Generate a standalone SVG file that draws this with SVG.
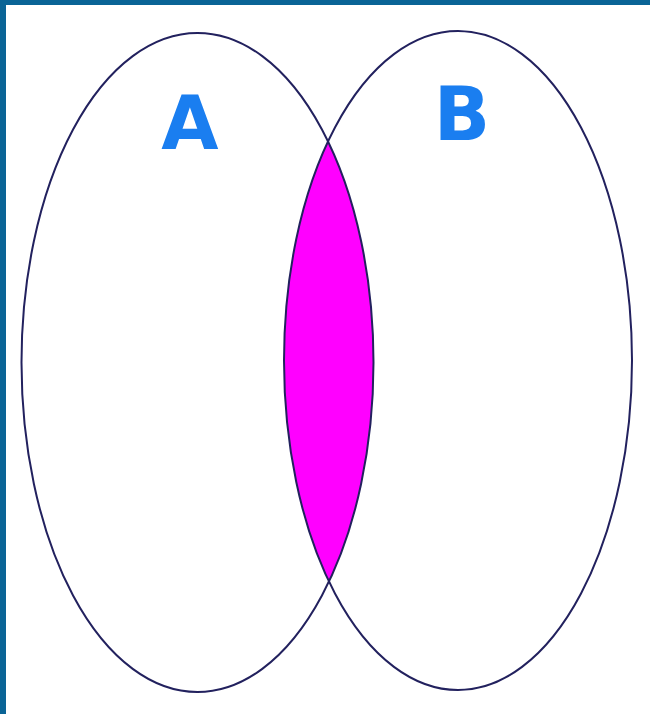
<svg xmlns="http://www.w3.org/2000/svg" width="650" height="714" viewBox="0 0 650 714">
<style>
.outline{fill:none;stroke:#22215e;stroke-width:2}
.lbl{font-family:"DejaVu Sans","Liberation Sans",sans-serif;font-weight:bold;font-size:74px;fill:#1a7ef0;text-anchor:middle}
</style>
<defs>
<clipPath id="clipA"><ellipse cx="197.5" cy="362.5" rx="176" ry="329.5"/></clipPath>
</defs>
<rect x="0" y="0" width="650" height="714" fill="#ffffff"/>
<rect x="0" y="0" width="650" height="5" fill="#0a6496"/>
<rect x="0" y="0" width="6" height="714" fill="#0a6496"/>
<g id="intersection">
<ellipse cx="458" cy="360.5" rx="174" ry="329.5" fill="#ff00ff" clip-path="url(#clipA)"/>
</g>
<g id="setA">
<ellipse class="outline" cx="197.5" cy="362.5" rx="176" ry="329.5"/>
<text class="lbl" x="190" y="149">A</text>
</g>
<g id="setB">
<ellipse class="outline" cx="458" cy="360.5" rx="174" ry="329.5"/>
<text class="lbl" x="462" y="140">B</text>
</g>
</svg>
